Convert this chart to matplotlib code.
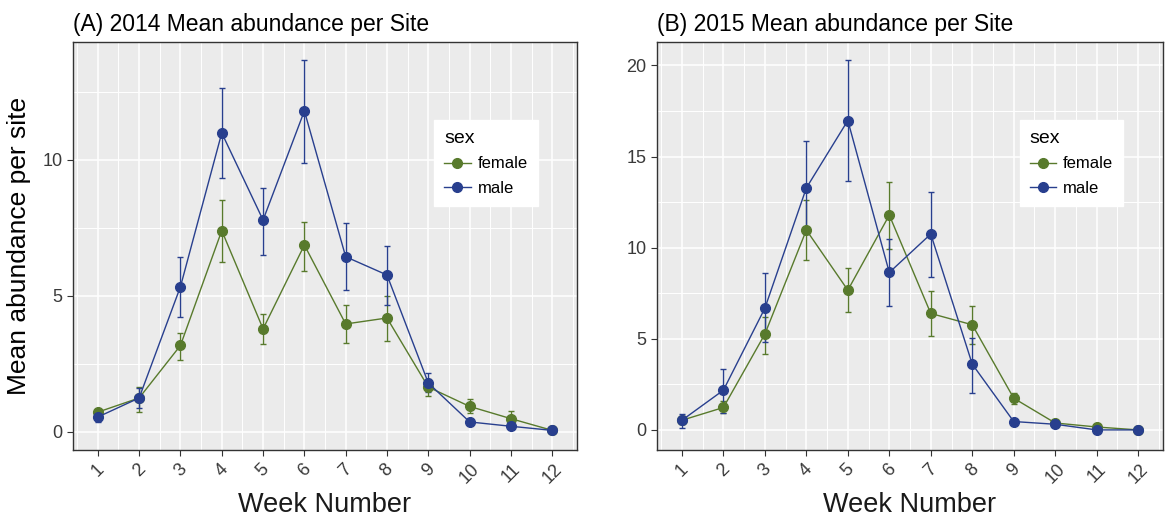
import matplotlib.pyplot as plt
from matplotlib.lines import Line2D
import numpy as np

plt.rcParams['font.family'] = ['Liberation Sans', 'DejaVu Sans']

# Data for the chart
weeks = list(range(1, 13))
week_labels = [str(w) for w in weeks]

# 2014
female_2014 = [0.73, 1.25, 3.18, 7.40, 3.79, 6.87, 3.97, 4.19, 1.65, 0.94, 0.49, 0.06]
female_2014_lo = [0.60, 0.73, 2.63, 6.23, 3.22, 5.93, 3.26, 3.36, 1.31, 0.70, 0.24, 0.03]
female_2014_hi = [0.86, 1.65, 3.63, 8.52, 4.34, 7.70, 4.65, 4.98, 1.95, 1.20, 0.77, 0.09]
male_2014 = [0.55, 1.25, 5.34, 10.99, 7.79, 11.80, 6.44, 5.77, 1.80, 0.37, 0.21, 0.06]
male_2014_lo = [0.35, 0.90, 4.22, 9.35, 6.50, 9.90, 5.22, 4.65, 1.47, 0.28, 0.14, 0.03]
male_2014_hi = [0.75, 1.60, 6.42, 12.63, 8.96, 13.66, 7.67, 6.85, 2.16, 0.46, 0.28, 0.09]

# 2015
female_2015 = [0.53, 1.23, 5.26, 10.97, 7.67, 11.79, 6.39, 5.77, 1.74, 0.38, 0.16, 0.0]
female_2015_lo = [0.30, 0.92, 4.16, 9.32, 6.45, 9.93, 5.16, 4.71, 1.41, 0.28, 0.08, 0.0]
female_2015_hi = [0.76, 1.59, 6.17, 12.62, 8.88, 13.59, 7.60, 6.81, 2.00, 0.48, 0.24, 0.0]
male_2015 = [0.53, 2.18, 6.68, 13.28, 16.98, 8.64, 10.75, 3.61, 0.46, 0.31, 0.0, 0.0]
male_2015_lo = [0.13, 0.95, 4.80, 10.75, 13.68, 6.81, 8.37, 2.05, 0.40, 0.25, 0.0, 0.0]
male_2015_hi = [0.86, 3.37, 8.61, 15.84, 20.31, 10.48, 13.04, 5.07, 0.52, 0.37, 0.0, 0.0]

green = '#587a2c'
blue = '#283f8e'

fig = plt.figure(figsize=(11.65, 5.16), dpi=100)
ax_a = fig.add_axes([0.0627, 0.128, 0.4326, 0.791])
ax_b = fig.add_axes([0.564, 0.128, 0.4343, 0.791])


def draw_series(ax, y, lo, hi, color, label):
    y = np.array(y)
    err = [y - np.array(lo), np.array(hi) - y]
    ax.errorbar(weeks, y, yerr=err, color=color, marker='o', markersize=7,
                linewidth=1, elinewidth=1, capsize=2.5, capthick=1, label=label, zorder=3)


def style_panel(ax, title, ylim, yticks):
    ax.set_facecolor('#ebebeb')
    ax.set_xlim(0.4, 12.6)
    ax.set_ylim(*ylim)
    ax.set_xticks(weeks)
    ax.set_xticklabels(week_labels, rotation=45, ha='center', va='top')
    ax.set_xticks(np.arange(0.5, 13, 1), minor=True)
    ax.set_yticks(yticks)
    ax.set_yticks(np.arange(2.5, ylim[1], 5), minor=True)
    ax.grid(True, which='major', color='white', linewidth=1.1, zorder=0)
    ax.grid(True, which='minor', color='white', linewidth=0.7, zorder=0)
    ax.set_axisbelow(True)
    ax.tick_params(which='major', length=4, color='#333333', labelsize=13,
                   labelcolor='#3a3a3a', width=0.8)
    ax.tick_params(which='minor', length=0)
    for s in ax.spines.values():
        s.set_color('#333333')
        s.set_linewidth(1.0)
    ax.set_xlabel('Week Number', fontsize=19.5, color='#1a1a1a', labelpad=4)
    ax.set_title(title, loc='left', fontsize=16.5, pad=8)
    handles = [Line2D([], [], color=green, marker='o', markersize=7, linewidth=1),
               Line2D([], [], color=blue, marker='o', markersize=7, linewidth=1)]
    leg = ax.legend(handles, ['female', 'male'], title='sex', loc='upper left',
                    bbox_to_anchor=(0.70, 0.828),
                    fontsize=12, title_fontsize=14, frameon=True, fancybox=False,
                    edgecolor='white', framealpha=1, handlelength=1.6,
                    handletextpad=0.4, borderpad=0.6, labelspacing=0.55)
    leg._legend_box.align = 'left'


draw_series(ax_a, female_2014, female_2014_lo, female_2014_hi, green, 'female')
draw_series(ax_a, male_2014, male_2014_lo, male_2014_hi, blue, 'male')
style_panel(ax_a, '(A) 2014 Mean abundance per Site', (-0.66, 14.34), [0, 5, 10])
ax_a.set_ylabel('Mean abundance per site', fontsize=19, labelpad=8)

draw_series(ax_b, female_2015, female_2015_lo, female_2015_hi, green, 'female')
draw_series(ax_b, male_2015, male_2015_lo, male_2015_hi, blue, 'male')
style_panel(ax_b, '(B) 2015 Mean abundance per Site', (-1.1, 21.3), [0, 5, 10, 15, 20])

fig.savefig('out.png', dpi=100)
